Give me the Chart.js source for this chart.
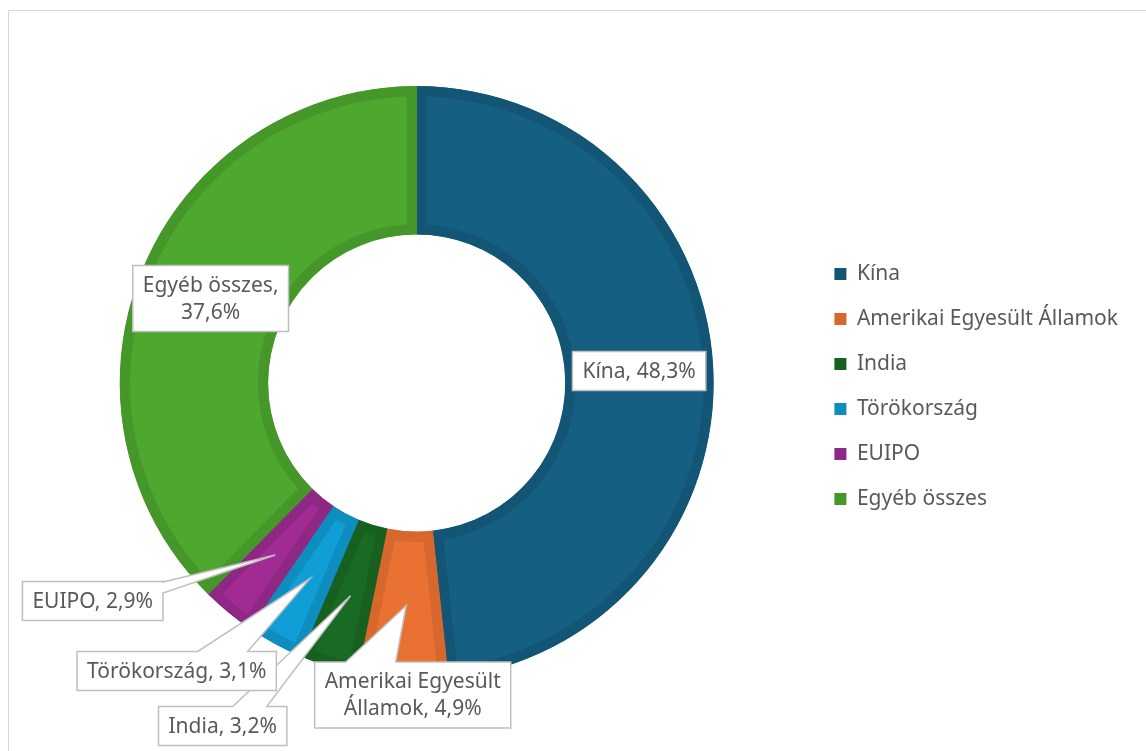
<!DOCTYPE html>
<html>
<head>
<meta charset="utf-8">
<title>Megoszlás</title>
<script src="https://cdn.jsdelivr.net/npm/chart.js@4.4.1/dist/chart.umd.min.js"></script>
<style>
  html, body { margin: 0; padding: 0; background: #fff; overflow: hidden; }
  #frame { position: absolute; left: 8px; top: 10px; width: 1160px; height: 760px; border: 1px solid #d9d9d9; }
  canvas { display: block; }
</style>
</head>
<body>
<div id="frame"><canvas id="chart" width="1160" height="760"></canvas></div>
<script>
// chart data
const categories = ['Kína', 'Amerikai Egyesült Államok', 'India', 'Törökország', 'EUIPO', 'Egyéb összes'];
const shares = [48.3, 4.9, 3.2, 3.1, 2.9, 37.6];
const fillColors = ['#156082', '#E97132', '#196B24', '#0F9ED5', '#A02B93', '#4EA72E'];
const edgeColors = ['#135575', '#D6672D', '#17601F', '#0E8DBF', '#8F2784', '#46972A'];

const textColor = '#595959';
const fontFamily = '"Noto Sans", sans-serif';
const labelFont = '21px ' + fontFamily;
const lineH = 27;
const padX = 10;
const padY = 6;

// where each data label box sits, relative to the doughnut centre
// (inside: box centred on the ring; otherwise box centre offset + wedge base)
const calloutLayout = [
  { inside: true, maxWidth: 200 },
  { dx: -4, dy: 312, maxWidth: 195, wedge: { side: 'top', a: -67, b: -17 } },
  { dx: -194, dy: 343, maxWidth: 220, wedge: { side: 'top', a: 10, b: 44 } },
  { dx: -240, dy: 288, maxWidth: 240, wedge: { side: 'top', a: 21, b: 71 } },
  { dx: -324, dy: 218, maxWidth: 220, wedge: { side: 'right', a: -19, b: -8 } },
  { inside: true, maxWidth: 150 }
];

function fmt(v) {
  return v.toFixed(1).replace('.', ',') + '%';
}

function wrapText(ctx, text, maxWidth) {
  const words = text.split(' ');
  const lines = [];
  let cur = '';
  words.forEach(w => {
    const test = cur ? cur + ' ' + w : w;
    if (cur && ctx.measureText(test).width > maxWidth) {
      lines.push(cur);
      cur = w;
    } else {
      cur = test;
    }
  });
  if (cur) lines.push(cur);
  return lines;
}

function calloutPath(ctx, cx, cy, w, h, wedge, tip) {
  const l = cx - w / 2, t = cy - h / 2, r = cx + w / 2, b = cy + h / 2;
  ctx.beginPath();
  ctx.moveTo(l, t);
  if (wedge && wedge.side === 'top') {
    ctx.lineTo(cx + wedge.a, t);
    ctx.lineTo(tip.x, tip.y);
    ctx.lineTo(cx + wedge.b, t);
  }
  ctx.lineTo(r, t);
  if (wedge && wedge.side === 'right') {
    ctx.lineTo(r, cy + wedge.a);
    ctx.lineTo(tip.x, tip.y);
    ctx.lineTo(r, cy + wedge.b);
  }
  ctx.lineTo(r, b);
  ctx.lineTo(l, b);
  ctx.closePath();
}

// draws the Excel-like data label boxes with their pointers
const calloutPlugin = {
  id: 'callouts',
  afterDatasetsDraw(chart) {
    const ctx = chart.ctx;
    const meta = chart.getDatasetMeta(0);
    ctx.save();
    ctx.font = labelFont;
    meta.data.forEach((arc, i) => {
      const p = arc.getProps(['x', 'y', 'startAngle', 'endAngle', 'innerRadius', 'outerRadius'], true);
      const mid = (p.startAngle + p.endAngle) / 2;
      const rr = (p.innerRadius + p.outerRadius) / 2;
      const tip = { x: p.x + Math.cos(mid) * rr, y: p.y + Math.sin(mid) * rr };
      const spec = calloutLayout[i];
      const lines = wrapText(ctx, categories[i] + ', ' + fmt(shares[i]), spec.maxWidth);
      const w = Math.max(...lines.map(l => ctx.measureText(l).width)) + 2 * padX;
      const h = lines.length * lineH + 2 * padY;
      const cx = spec.inside ? tip.x : p.x + spec.dx;
      const cy = spec.inside ? tip.y : p.y + spec.dy;

      calloutPath(ctx, cx, cy, w, h, spec.inside ? null : spec.wedge, tip);
      ctx.fillStyle = '#ffffff';
      ctx.fill();
      ctx.lineWidth = 1.5;
      ctx.strokeStyle = '#bfbfbf';
      ctx.lineJoin = 'miter';
      ctx.stroke();

      ctx.fillStyle = textColor;
      ctx.textAlign = 'center';
      ctx.textBaseline = 'middle';
      lines.forEach((line, k) => {
        ctx.fillText(line, cx, cy - h / 2 + padY + lineH * k + lineH / 2 + 1);
      });
    });
    ctx.restore();
  }
};

const chart = new Chart(document.getElementById('chart'), {
  type: 'doughnut',
  data: {
    labels: categories,
    datasets: [{
      data: shares,
      backgroundColor: fillColors,
      borderColor: edgeColors,
      borderWidth: 10,
      borderAlign: 'inner'
    }]
  },
  options: {
    responsive: false,
    animation: false,
    events: [],
    cutout: '50%',
    layout: {
      padding: { top: 75, bottom: 91, left: 14, right: 41 }
    },
    plugins: {
      tooltip: { enabled: false },
      legend: {
        position: 'right',
        title: { display: true, text: '', font: { size: 1, lineHeight: 1 }, padding: 3 },
        labels: {
          boxWidth: 12,
          boxHeight: 12,
          padding: 24,
          color: textColor,
          font: { family: fontFamily, size: 21 },
          generateLabels() {
            return categories.map((c, i) => ({
              text: c,
              fillStyle: edgeColors[i],
              strokeStyle: edgeColors[i],
              lineWidth: 0,
              fontColor: textColor,
              hidden: false,
              index: i
            }));
          }
        }
      }
    }
  },
  plugins: [calloutPlugin]
});
</script>
</body>
</html>
